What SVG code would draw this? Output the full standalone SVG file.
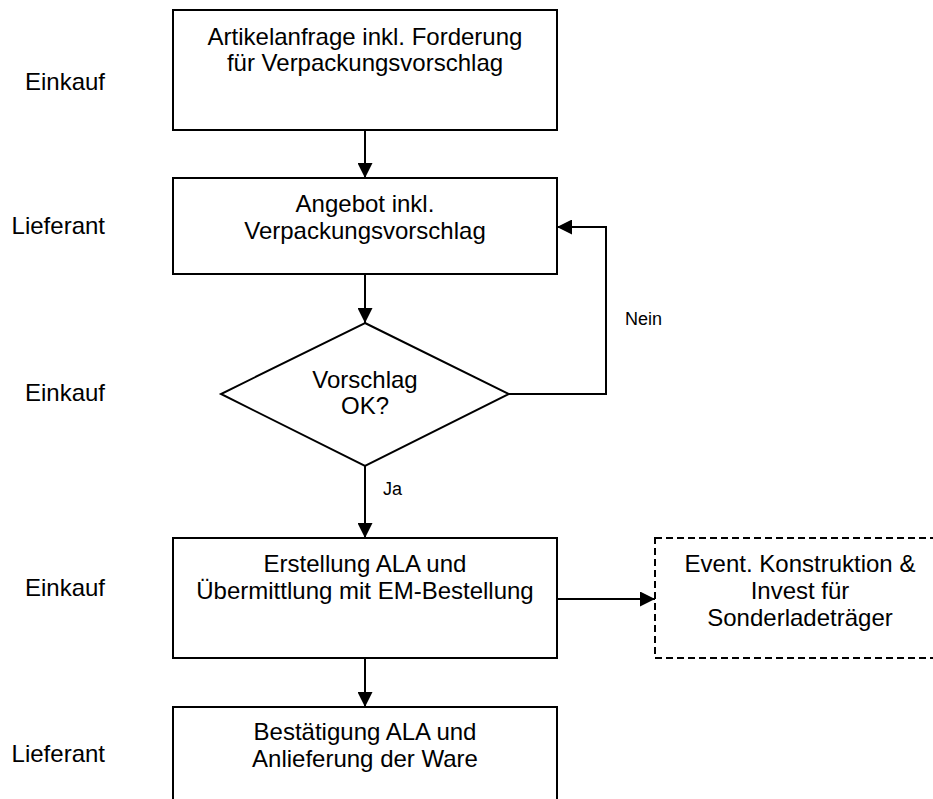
<svg xmlns="http://www.w3.org/2000/svg" width="933" height="799" viewBox="0 0 933 799">
<style>
text{font-family:"Liberation Sans",Arial,sans-serif;fill:#000}
.t{font-size:24px;text-anchor:middle}
.lane{font-size:24px;text-anchor:end}
.lbl{font-size:18px}
.box{fill:#fff;stroke:#000;stroke-width:2}
.dash{fill:#fff;stroke:#000;stroke-width:2;stroke-dasharray:7,4}
.c{fill:none;stroke:#000;stroke-width:2}
</style>
<defs>
<marker id="ahb" viewBox="0 0 15 15" refX="15" refY="7.5" markerWidth="15" markerHeight="15" markerUnits="userSpaceOnUse" orient="auto"><path d="M0,0 L15,7.5 L0,15 z" fill="#000"/></marker>
</defs>
<g id="lanes">
<text class="lane" x="105" y="90">Einkauf</text>
<text class="lane" x="105" y="234">Lieferant</text>
<text class="lane" x="105" y="401">Einkauf</text>
<text class="lane" x="105" y="596">Einkauf</text>
<text class="lane" x="105" y="762">Lieferant</text>
</g>
<g id="connectors">
<path class="c" d="M365,130 V178" marker-end="url(#ahb)"/>
<path class="c" d="M365,274 V323" marker-end="url(#ahb)"/>
<path class="c" d="M509,394 H606 V227 H557" marker-end="url(#ahb)"/>
<path class="c" d="M365,466 V538" marker-end="url(#ahb)"/>
<path class="c" d="M557,599 H655" marker-end="url(#ahb)"/>
<path class="c" d="M365,658 V707" marker-end="url(#ahb)"/>
<text class="lbl" x="625" y="325">Nein</text>
<text class="lbl" x="383" y="495">Ja</text>
</g>
<g id="n1">
<rect class="box" x="173" y="10" width="384" height="120"/>
<text class="t" x="365" y="45">Artikelanfrage inkl. Forderung</text>
<text class="t" x="365" y="71">für Verpackungsvorschlag</text>
</g>
<g id="n2">
<rect class="box" x="173" y="178" width="384" height="96"/>
<text class="t" x="365" y="212">Angebot inkl.</text>
<text class="t" x="365" y="239">Verpackungsvorschlag</text>
</g>
<g id="n3">
<polygon class="box" points="365,323 509,394 365,466 221,394"/>
<text class="t" x="365" y="388">Vorschlag</text>
<text class="t" x="365" y="414">OK?</text>
</g>
<g id="n4">
<rect class="box" x="173" y="538" width="384" height="120"/>
<text class="t" x="365" y="572">Erstellung ALA und</text>
<text class="t" x="365" y="599">Übermittlung mit EM-Bestellung</text>
</g>
<g id="n5">
<rect class="dash" x="655" y="538" width="290" height="120"/>
<text class="t" x="800" y="572">Event. Konstruktion &amp;</text>
<text class="t" x="800" y="599">Invest für</text>
<text class="t" x="800" y="626">Sonderladeträger</text>
</g>
<g id="n6">
<rect class="box" x="173" y="707" width="384" height="110"/>
<text class="t" x="365" y="740">Bestätigung ALA und</text>
<text class="t" x="365" y="767">Anlieferung der Ware</text>
</g>
</svg>
